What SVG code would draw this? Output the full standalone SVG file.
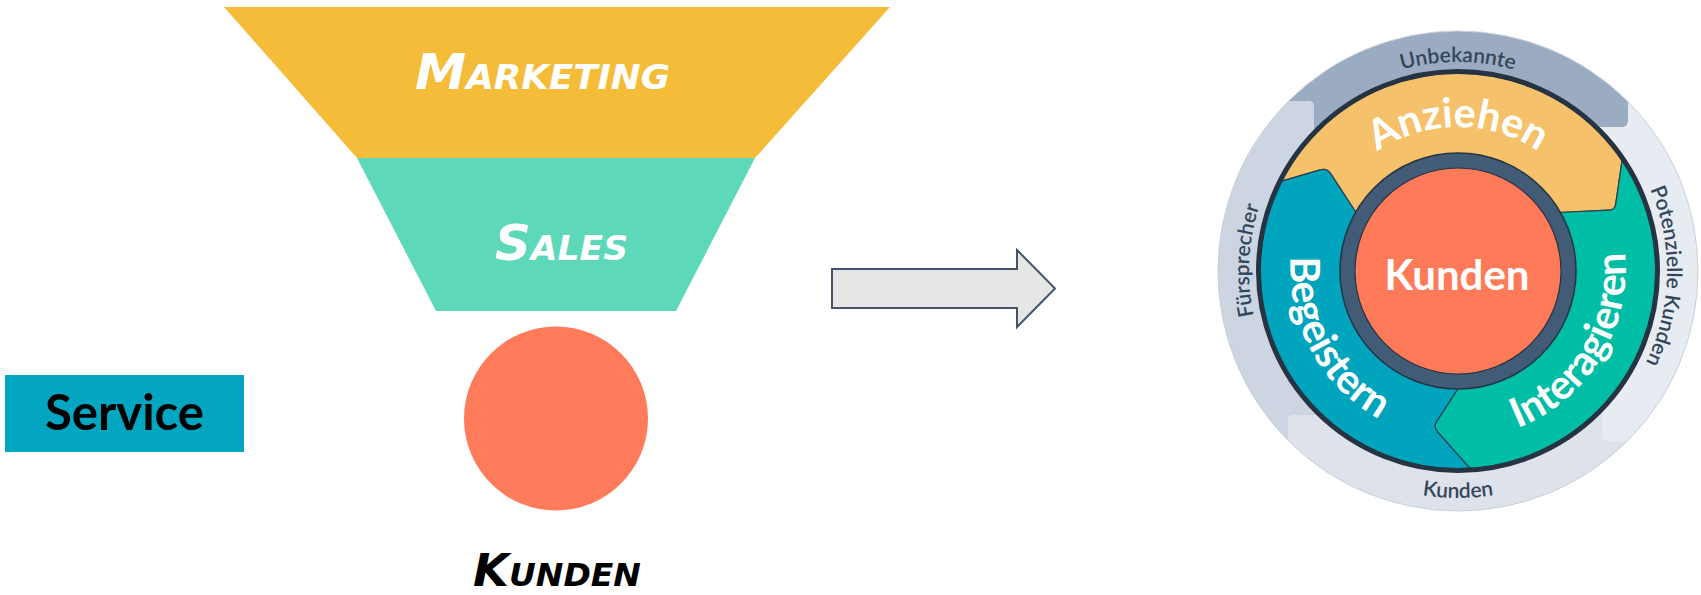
<svg xmlns="http://www.w3.org/2000/svg" width="1701" height="595" viewBox="0 0 1701 595">
<style>
.hand{font-family:"DejaVu Sans","Liberation Sans",sans-serif;font-weight:bold;font-style:italic;font-variant:small-caps;}
.ring{font-family:Lato,"Liberation Sans",sans-serif;font-weight:600;font-size:21px;fill:#33475B;}
.seg{font-family:Lato,"Liberation Sans",sans-serif;font-weight:700;font-size:41px;fill:#FFFFFF;}
.segshape{stroke:#2D3E50;stroke-width:1.2;stroke-linejoin:round;}
</style>
<defs>
<path id="ringCW" d="M 1458 480 A 209 209 0 1 1 1458 62 A 209 209 0 1 1 1458 480"/>
<path id="ringBottom" d="M 1231 271 A 227 227 0 0 0 1685 271"/>
<path id="pAnz" d="M 1314 271 A 144 144 0 0 1 1602 271"/>
<path id="pInt" d="M 1373 418.2 A 170 170 0 0 0 1543 123.8"/>
<path id="pBeg" d="M 1373 123.8 A 170 170 0 0 0 1543 418.2"/>
</defs>
<rect width="1701" height="595" fill="#FFFFFF"/>

<g id="funnel-marketing">
<polygon points="224,7 890,7 755,158 357,158" fill="#F4BC38"/>
<text class="hand" x="415" y="89" font-size="49" fill="#FFFFFF" textLength="255" lengthAdjust="spacingAndGlyphs">Marketing</text>
</g>
<g id="funnel-sales">
<polygon points="357,158 755,158 676,311 436,311" fill="#5DD9BA"/>
<text class="hand" x="495" y="260" font-size="49" fill="#FFFFFF" textLength="133" lengthAdjust="spacingAndGlyphs">Sales</text>
</g>
<g id="customer-circle">
<circle cx="556" cy="418.5" r="92" fill="#FF7B5A"/>
</g>
<g id="kunden-label">
<text class="hand" x="473" y="586" font-size="45" fill="#000000" textLength="168" lengthAdjust="spacingAndGlyphs">Kunden</text>
</g>
<g id="service">
<rect x="5" y="375" width="239" height="77" fill="#02A6C1"/>
<text x="124.5" y="430" text-anchor="middle" font-family="Lato, 'Liberation Sans', sans-serif" font-weight="700" font-size="49" fill="#000000">Service</text>
</g>

<g id="connectors">
<polygon points="832,269 1017,269 1017,250 1055,288.5 1017,327 1017,308 832,308" fill="#E6E6E6" stroke="#44546A" stroke-width="2"/>
</g>

<g id="flywheel">
<g id="outer-ring">
<path id="ring-unbekannte" fill="#9BACC2" d="M 1288.6 101 A 240 240 0 0 1 1628 101.6 L 1628 121 Q 1628 127 1622 127 L 1599.7 127 L 1458 271 L 1314 129.3 L 1314 107 Q 1314 101 1308 101 Z"/>
<path id="ring-potenzielle" fill="#E7ECF3" d="M 1628 101.6 A 240 240 0 0 1 1627.4 441 L 1608 441 Q 1602 441 1602 435 L 1602 412.7 L 1458 271 L 1599.7 127 L 1622 127 Q 1628 127 1628 121 Z"/>
<path id="ring-kunden" fill="#DEE2EA" d="M 1627.4 441 A 240 240 0 0 1 1288 440.4 L 1288 421 Q 1288 415 1294 415 L 1316.3 415 L 1458 271 L 1602 412.7 L 1602 435 Q 1602 441 1608 441 Z"/>
<path id="ring-fuersprecher" fill="#CCD5E1" d="M 1288 440.4 A 240 240 0 0 1 1288.6 101 L 1308 101 Q 1314 101 1314 107 L 1314 129.3 L 1458 271 L 1316.3 415 L 1294 415 Q 1288 415 1288 421 Z"/>
<circle cx="1458" cy="271" r="240" fill="none" stroke="#C9D0DA" stroke-width="1"/>
<text class="ring"><textPath href="#ringCW" startOffset="25.8%" text-anchor="middle">Fürsprecher</textPath></text>
<text class="ring"><textPath href="#ringCW" startOffset="50%" text-anchor="middle">Unbekannte</textPath></text>
<text class="ring"><textPath href="#ringCW" startOffset="75.4%" text-anchor="middle">Potenzielle Kunden</textPath></text>
<text class="ring"><textPath href="#ringBottom" startOffset="50%" text-anchor="middle">Kunden</textPath></text>
</g>
<g id="seg-anziehen">
<path class="segshape" fill="#F5C26B" d="M 1281.6 181.1 A 198 198 0 0 1 1622.1 160.3 L 1615.7 204 Q 1615 210 1609 210.2 L 1558 212.5 A 116 116 0 0 0 1357 214 L 1330.8 173.9 Q 1327 168 1320.3 169.9 Z"/>
</g>
<g id="seg-interagieren">
<path class="segshape" fill="#00BDA5" d="M 1622.1 160.3 A 198 198 0 0 1 1470.1 468.6 L 1437.7 432.2 Q 1433 427 1436.8 421.1 L 1459 387 A 116 116 0 0 0 1558 212.5 L 1609 210.2 Q 1615 210 1615.7 204 Z"/>
</g>
<g id="seg-begeistern">
<path class="segshape" fill="#00A4BD" d="M 1470.1 468.6 A 198 198 0 0 1 1281.6 181.1 L 1320.3 169.9 Q 1327 168 1330.8 173.9 L 1357 214 A 116 116 0 0 0 1459 387 L 1436.8 421.1 Q 1433 427 1437.7 432.2 Z"/>
</g>
<circle cx="1458" cy="271" r="199.5" fill="none" stroke="#253342" stroke-width="5"/>
<text class="seg"><textPath href="#pAnz" startOffset="50%" text-anchor="middle">Anziehen</textPath></text>
<text class="seg"><textPath href="#pInt" startOffset="49.2%" text-anchor="middle">Interagieren</textPath></text>
<text class="seg"><textPath href="#pBeg" startOffset="49.2%" text-anchor="middle">Begeistern</textPath></text>
<g id="center-kunden">
<circle cx="1458" cy="271" r="118" fill="#425B76" stroke="#253342" stroke-width="1.5"/>
<circle cx="1458" cy="271" r="103" fill="#FF7A59" stroke="#253342" stroke-width="1.2"/>
<text x="1457" y="290" text-anchor="middle" font-family="Lato, 'Liberation Sans', sans-serif" font-weight="700" font-size="42" fill="#FFFFFF">Kunden</text>
</g>
</g>
</svg>
